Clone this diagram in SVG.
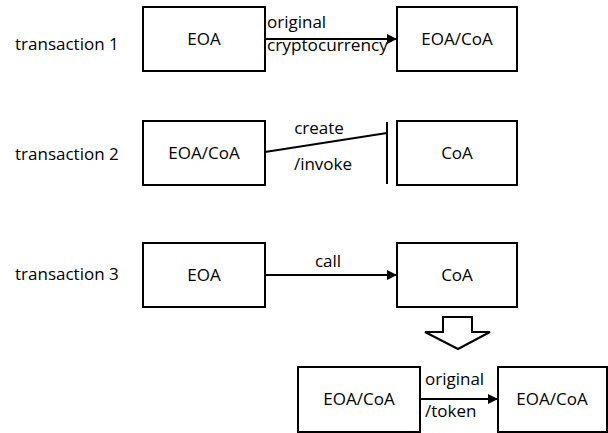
<svg xmlns="http://www.w3.org/2000/svg" width="608" height="433" viewBox="0 0 608 433">
<style>
text{font-family:"Open Sans","Liberation Sans",sans-serif;font-size:17px;fill:#000}
.c{text-anchor:middle}
.box{fill:#fff;stroke:#000;stroke-width:2}
.ln{stroke:#000;stroke-width:2;fill:none}
</style>
<defs>
<marker id="ah" viewBox="0 0 10 10" refX="10" refY="5" markerWidth="5" markerHeight="5" orient="auto" markerUnits="strokeWidth">
<path d="M0,0 L10,5 L0,10 z" fill="#000"/>
</marker>
</defs>
<g id="labels">
<text x="15" y="50">transaction 1</text>
<text x="15" y="160">transaction 2</text>
<text x="15" y="280">transaction 3</text>
</g>
<g id="t1-eoa"><rect class="box" x="143" y="7" width="122" height="64"/><text class="c" x="204" y="45">EOA</text></g>
<g id="t1-target"><rect class="box" x="397" y="7" width="120" height="64"/><text class="c" x="457" y="45">EOA/CoA</text></g>
<g id="t2-source"><rect class="box" x="143" y="121" width="122" height="64"/><text class="c" x="204" y="159">EOA/CoA</text></g>
<g id="t2-coa"><rect class="box" x="397" y="121" width="120" height="64"/><text class="c" x="457" y="159">CoA</text></g>
<g id="t3-eoa"><rect class="box" x="143" y="243" width="122" height="64"/><text class="c" x="204" y="281">EOA</text></g>
<g id="t3-coa"><rect class="box" x="397" y="243" width="120" height="64"/><text class="c" x="457" y="281">CoA</text></g>
<g id="r-source"><rect class="box" x="298" y="367" width="122" height="65"/><text class="c" x="359" y="405">EOA/CoA</text></g>
<g id="r-target"><rect class="box" x="498" y="367" width="109" height="65"/><text class="c" x="552" y="405">EOA/CoA</text></g>
<g id="connectors">
<line class="ln" x1="265" y1="39" x2="397" y2="39" marker-end="url(#ah)"/>
<line class="ln" x1="265" y1="152" x2="387" y2="133"/>
<line class="ln" x1="387" y1="122" x2="387" y2="184"/>
<line class="ln" x1="265" y1="275" x2="397" y2="275" marker-end="url(#ah)"/>
<line class="ln" x1="420" y1="399" x2="498" y2="399" marker-end="url(#ah)"/>
<path d="M443,317 H472 V332 H490 L458,349 L425,332 H443 Z" fill="#fff" stroke="#000" stroke-width="2" stroke-linejoin="miter"/>
</g>
<g id="connector-labels">
<text x="267" y="28">original</text>
<text x="267" y="51" textLength="121" lengthAdjust="spacingAndGlyphs">cryptocurrency</text>
<text class="c" x="319" y="134">create</text>
<text class="c" x="323" y="170">/invoke</text>
<text class="c" x="328" y="267">call</text>
<text x="425" y="385">original</text>
<text x="425" y="417">/token</text>
</g>
</svg>
